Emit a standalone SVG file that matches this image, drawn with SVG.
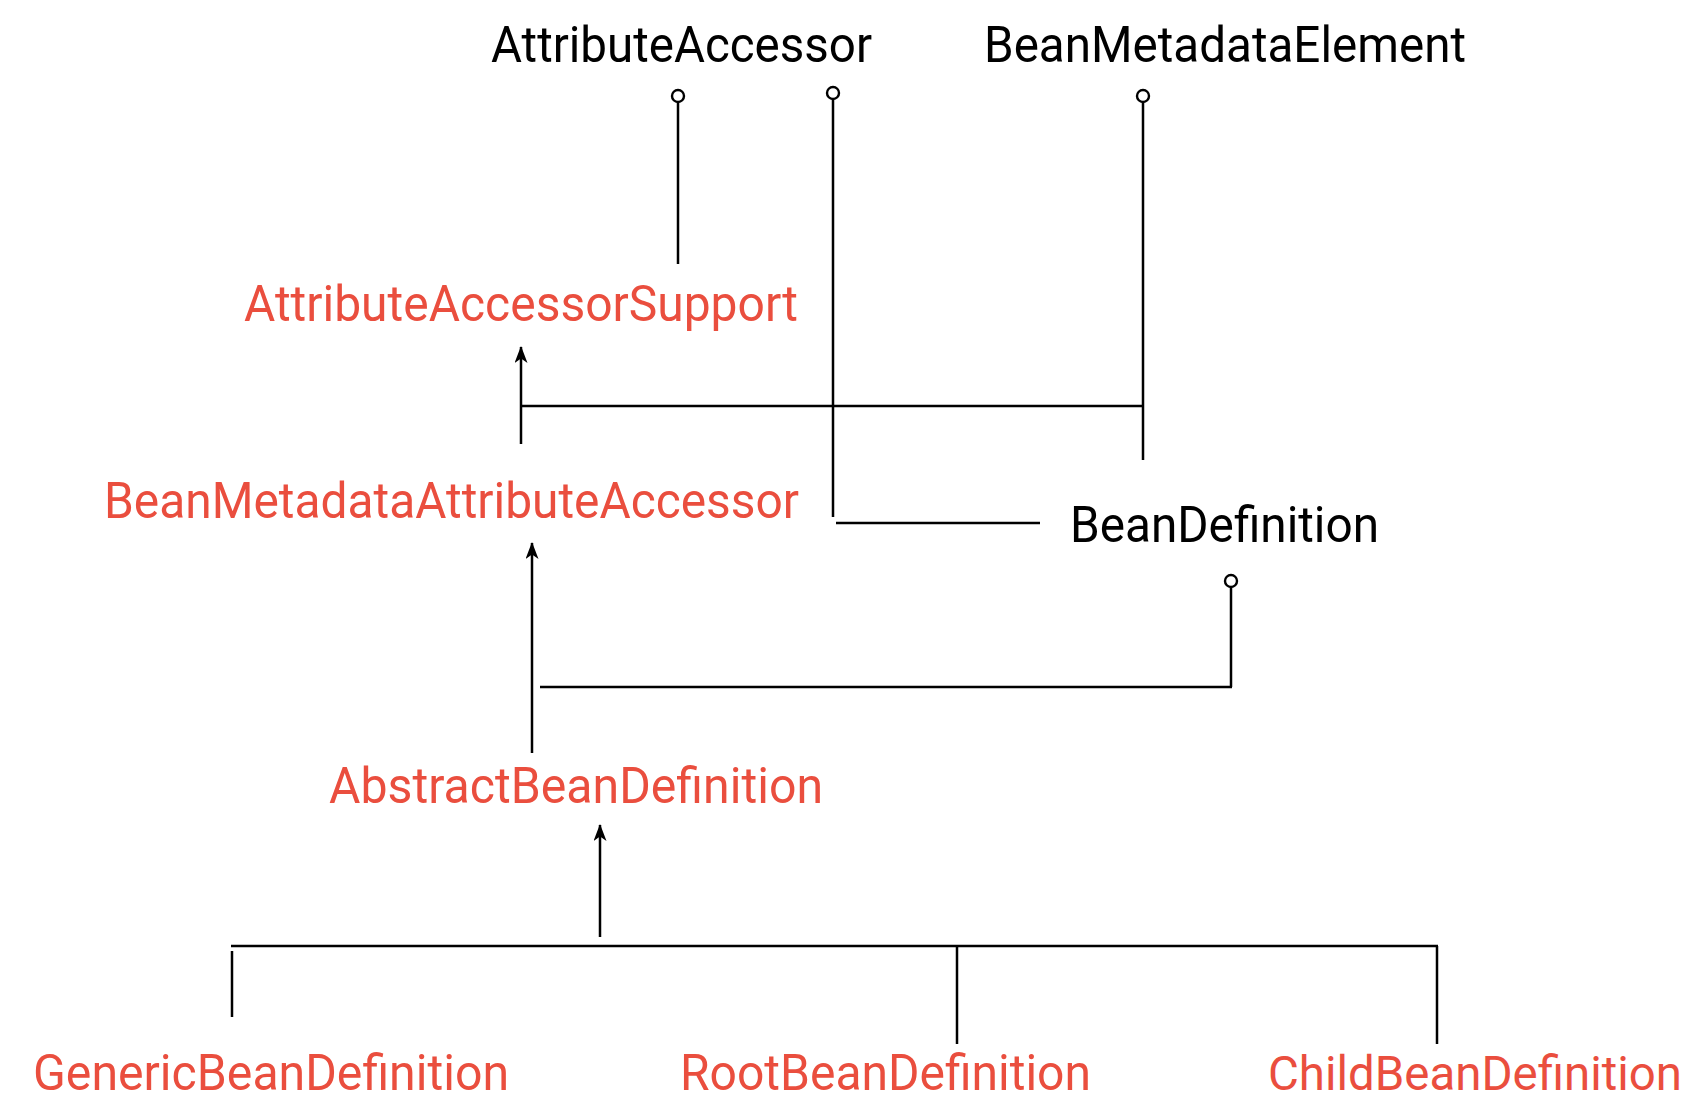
<svg xmlns="http://www.w3.org/2000/svg" width="1699" height="1117" viewBox="0 0 1699 1117">
<style>
  .lbl { font-family: Roboto, "Liberation Sans", sans-serif; font-size: 50px; }
  .iface { fill: #000000; }
  .cls { fill: #EA4E3E; }
  .ln { stroke: #000; stroke-width: 2.5; fill: none; }
  .lolli { stroke: #000; stroke-width: 2.4; fill: #fff; }
</style>
<defs>
  <marker id="arr" markerUnits="userSpaceOnUse" markerWidth="17" markerHeight="13" viewBox="0 0 17 13" refX="16" refY="6.5" orient="auto">
    <path d="M0,0 L17,6.5 L0,13 L4.5,6.5 z" fill="#000"/>
  </marker>
</defs>
<rect width="1699" height="1117" fill="#fff"/>

<g id="connectors">
  <line class="ln" x1="678" y1="102" x2="678" y2="264"/>
  <line class="ln" x1="833" y1="99" x2="833" y2="517"/>
  <line class="ln" x1="836" y1="523" x2="1040" y2="523"/>
  <line class="ln" x1="1143" y1="102" x2="1143" y2="460"/>
  <line class="ln" x1="521" y1="406" x2="1143" y2="406"/>
  <line class="ln" x1="521" y1="444" x2="521" y2="347" marker-end="url(#arr)"/>
  <line class="ln" x1="1231" y1="587" x2="1231" y2="687"/>
  <line class="ln" x1="540" y1="687" x2="1232" y2="687"/>
  <line class="ln" x1="532" y1="753" x2="532" y2="543" marker-end="url(#arr)"/>
  <line class="ln" x1="600" y1="937" x2="600" y2="825" marker-end="url(#arr)"/>
  <line class="ln" x1="231" y1="946" x2="1438" y2="946"/>
  <line class="ln" x1="232" y1="951" x2="232" y2="1017"/>
  <line class="ln" x1="957" y1="946" x2="957" y2="1044"/>
  <line class="ln" x1="1437" y1="946" x2="1437" y2="1044"/>
  <circle class="lolli" cx="678" cy="96" r="6"/>
  <circle class="lolli" cx="833" cy="93" r="6"/>
  <circle class="lolli" cx="1143" cy="96" r="6"/>
  <circle class="lolli" cx="1231" cy="581" r="6"/>
</g>

<g id="AttributeAccessor"><text class="lbl iface" x="491" y="62" textLength="381" lengthAdjust="spacingAndGlyphs">AttributeAccessor</text></g>
<g id="BeanMetadataElement"><text class="lbl iface" x="984" y="62" textLength="482" lengthAdjust="spacingAndGlyphs">BeanMetadataElement</text></g>
<g id="AttributeAccessorSupport"><text class="lbl cls" x="244" y="321" textLength="554" lengthAdjust="spacingAndGlyphs">AttributeAccessorSupport</text></g>
<g id="BeanMetadataAttributeAccessor"><text class="lbl cls" x="104" y="518" textLength="695" lengthAdjust="spacingAndGlyphs">BeanMetadataAttributeAccessor</text></g>
<g id="BeanDefinition"><text class="lbl iface" x="1070" y="542" textLength="309" lengthAdjust="spacingAndGlyphs">BeanDefinition</text></g>
<g id="AbstractBeanDefinition"><text class="lbl cls" x="329" y="803" textLength="494" lengthAdjust="spacingAndGlyphs">AbstractBeanDefinition</text></g>
<g id="GenericBeanDefinition"><text class="lbl cls" x="33" y="1090" textLength="476" lengthAdjust="spacingAndGlyphs">GenericBeanDefinition</text></g>
<g id="RootBeanDefinition"><text class="lbl cls" x="680" y="1090" textLength="411" lengthAdjust="spacingAndGlyphs">RootBeanDefinition</text></g>
<g id="ChildBeanDefinition"><text class="lbl cls" x="1268" y="1090" style="font-size:48.5px" textLength="414" lengthAdjust="spacingAndGlyphs">ChildBeanDefinition</text></g>
</svg>
